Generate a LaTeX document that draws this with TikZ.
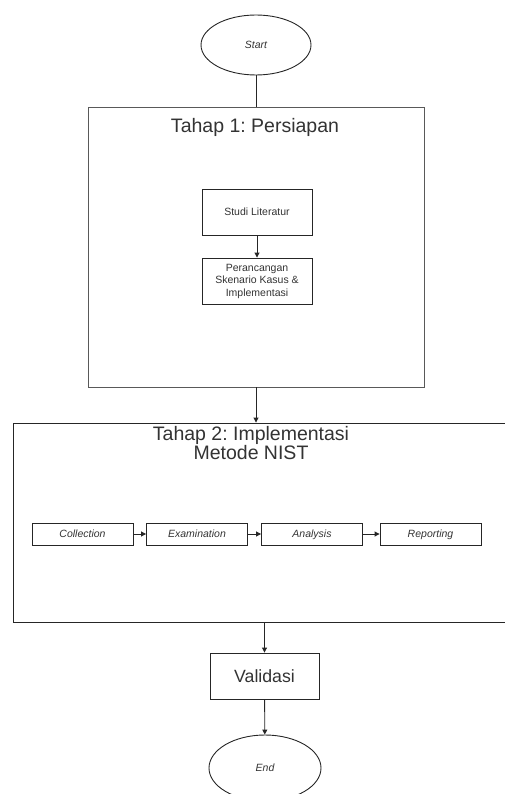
\documentclass[tikz,border=0pt]{standalone}
\usepackage{fontspec}
\setmainfont{Liberation Sans}
\usepackage{tikz}
\usetikzlibrary{shapes,arrows.meta,positioning}
\frenchspacing
\definecolor{txtgray}{HTML}{333333}
\tikzstyle{every node}=[text=txtgray]
\tikzstyle{terminal}=[ellipse,draw,inner sep=0pt,font=\fontsize{10.5}{12.5}\selectfont\itshape]
\tikzstyle{stage}=[rectangle,draw,inner sep=0pt]
\tikzstyle{smallbox}=[rectangle,draw,inner sep=0pt,minimum width=110pt,minimum height=46pt,align=center,font=\fontsize{10.5}{12.5}\selectfont]
\tikzstyle{nistbox}=[rectangle,draw,inner sep=0pt,minimum width=101pt,minimum height=22pt,text height=1.6ex,text depth=0.45ex,font=\fontsize{10.5}{12.5}\selectfont\itshape]
\tikzstyle{title}=[align=center,font=\fontsize{19.5}{19}\selectfont]
\tikzstyle{flow}=[-{Triangle[length=5pt,width=5pt]},draw=black!85]

\begin{document}
\begin{tikzpicture}[x=1pt,y=-1pt,draw=black!85,line width=0.9pt]
        \useasboundingbox (0,0) rectangle (504,794);
        % start and phase 1
        \node (start) at (256,45) [terminal,minimum width=110pt,minimum height=60pt] {Start};
        \node (tahapsatu) at (256,247) [stage,draw=black!65,minimum width=336pt,minimum height=280pt] {};
        \node (judulsatu) at (255,127) [title] {Tahap 1: Persiapan};
        \node (studi) at (257,212) [smallbox] {Studi Literatur};
        \node (rancang) at (257,281) [smallbox] {Perancangan\\Skenario Kasus \&\\Implementasi};
        % phase 2
        \node (tahapdua) at (260,522.5) [stage,minimum width=494pt,minimum height=199pt] {};
        \node (juduldua) at (251,443) [title] {Tahap 2: Implementasi\\Metode NIST};
        \node (collection) at (82.5,534) [nistbox] {Collection};
        \node (examination) at (197,534) [nistbox] {Examination};
        \node (analysis) at (312,534) [nistbox] {Analysis};
        \node (reporting) at (430.5,534) [nistbox] {Reporting};
        % validation and end
        \node (validasi) at (264.5,676) [stage,minimum width=109pt,minimum height=46pt,font=\fontsize{17.7}{19}\selectfont] {Validasi};
        \node (end) at (265,768) [terminal,minimum width=112pt,minimum height=66pt] {End};

        \draw (start) -- (tahapsatu.north);
        \draw[flow] (studi) -- (rancang);
        \draw[flow] (tahapsatu.south) -- (tahapsatu.south |- tahapdua.north);
        \draw[flow] (collection) -- (examination);
        \draw[flow] (examination) -- (analysis);
        \draw[flow] (analysis) -- (reporting);
        \draw[flow] (validasi.north |- tahapdua.south) -- (validasi);
        \draw[flow] (validasi) -- (end);
      \end{tikzpicture}
\end{document}
